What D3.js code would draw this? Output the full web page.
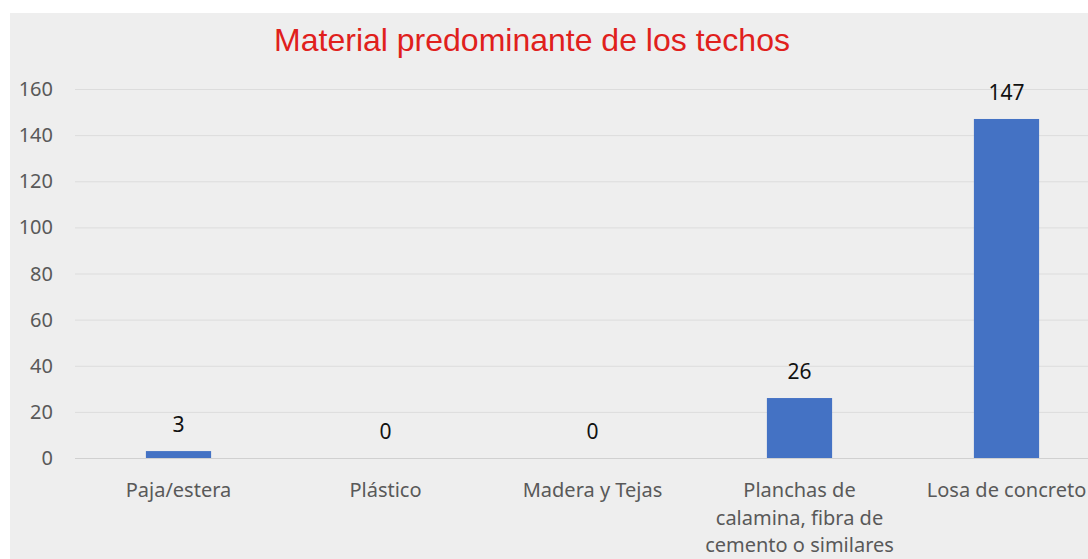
<!DOCTYPE html>
<html>
<head>
<meta charset="utf-8">
<script src="https://cdn.jsdelivr.net/npm/d3@7"></script>
<style>
  body { margin: 0; background: #fff; }
  svg { display: block; }
</style>
</head>
<body>
<svg id="chart" width="1088" height="559"></svg>
<script>
const categories = [
  ["Paja/estera"],
  ["Plástico"],
  ["Madera y Tejas"],
  ["Planchas de", "calamina, fibra de", "cemento o similares"],
  ["Losa de concreto"]
];
const values = [3, 0, 0, 26, 147];
const yTicks = [0, 20, 40, 60, 80, 100, 120, 140, 160];
const title = "Material predominante de los techos";

const svg = d3.select("#chart");
const W = 1088, H = 559;

// panel background (the picture is cropped, white strip top/left)
svg.append("rect")
  .attr("x", 10).attr("y", 13)
  .attr("width", W - 10).attr("height", H - 13)
  .attr("fill", "#eeeeee");

const x = d3.scaleBand()
  .domain(d3.range(categories.length))
  .range([75, 1110])
  .paddingInner(0.685)
  .paddingOuter(0.3425);

const y = d3.scaleLinear()
  .domain([0, 160])
  .range([458, 89]);

svg.append("text")
  .attr("x", 532).attr("y", 51)
  .attr("text-anchor", "middle")
  .attr("font-family", "Liberation Sans, Arial, sans-serif")
  .attr("font-size", 32)
  .attr("fill", "#e0201c")
  .text(title);

// gridlines
svg.append("g")
  .selectAll("line")
  .data(yTicks)
  .join("line")
  .attr("x1", 75).attr("x2", W)
  .attr("y1", d => y(d) + 0.5).attr("y2", d => y(d) + 0.5)
  .attr("stroke", d => d === 0 ? "#d0d0d0" : "#dcdcdc")
  .attr("stroke-width", 1);

// y axis labels
svg.append("g")
  .selectAll("text")
  .data(yTicks)
  .join("text")
  .attr("x", 53)
  .attr("y", d => y(d))
  .attr("dy", "0.35em")
  .attr("text-anchor", "end")
  .attr("font-family", "Noto Sans, sans-serif")
  .attr("font-size", 20)
  .attr("fill", "#595959")
  .text(d => d);

// bars
svg.append("g")
  .selectAll("rect")
  .data(values)
  .join("rect")
  .attr("x", (d, i) => x(i))
  .attr("width", x.bandwidth())
  .attr("y", d => y(d))
  .attr("height", d => y(0) - y(d))
  .attr("fill", "#4472c4");

// value labels
svg.append("g")
  .selectAll("text")
  .data(values)
  .join("text")
  .attr("x", (d, i) => x(i) + x.bandwidth() / 2)
  .attr("y", d => y(d) - 19)
  .attr("text-anchor", "middle")
  .attr("font-family", "Noto Sans, sans-serif")
  .attr("font-size", 21)
  .attr("fill", "#111")
  .text(d => d);

// category labels
const cat = svg.append("g")
  .selectAll("text")
  .data(categories)
  .join("text")
  .attr("x", (d, i) => x(i) + x.bandwidth() / 2)
  .attr("y", 497)
  .attr("text-anchor", "middle")
  .attr("font-family", "Noto Sans, sans-serif")
  .attr("font-size", 20)
  .attr("fill", "#595959");

cat.selectAll("tspan")
  .data(d => d)
  .join("tspan")
  .attr("x", function () { return d3.select(this.parentNode).attr("x"); })
  .attr("dy", (d, i) => i === 0 ? 0 : 27.5)
  .text(d => d);
</script>
</body>
</html>
